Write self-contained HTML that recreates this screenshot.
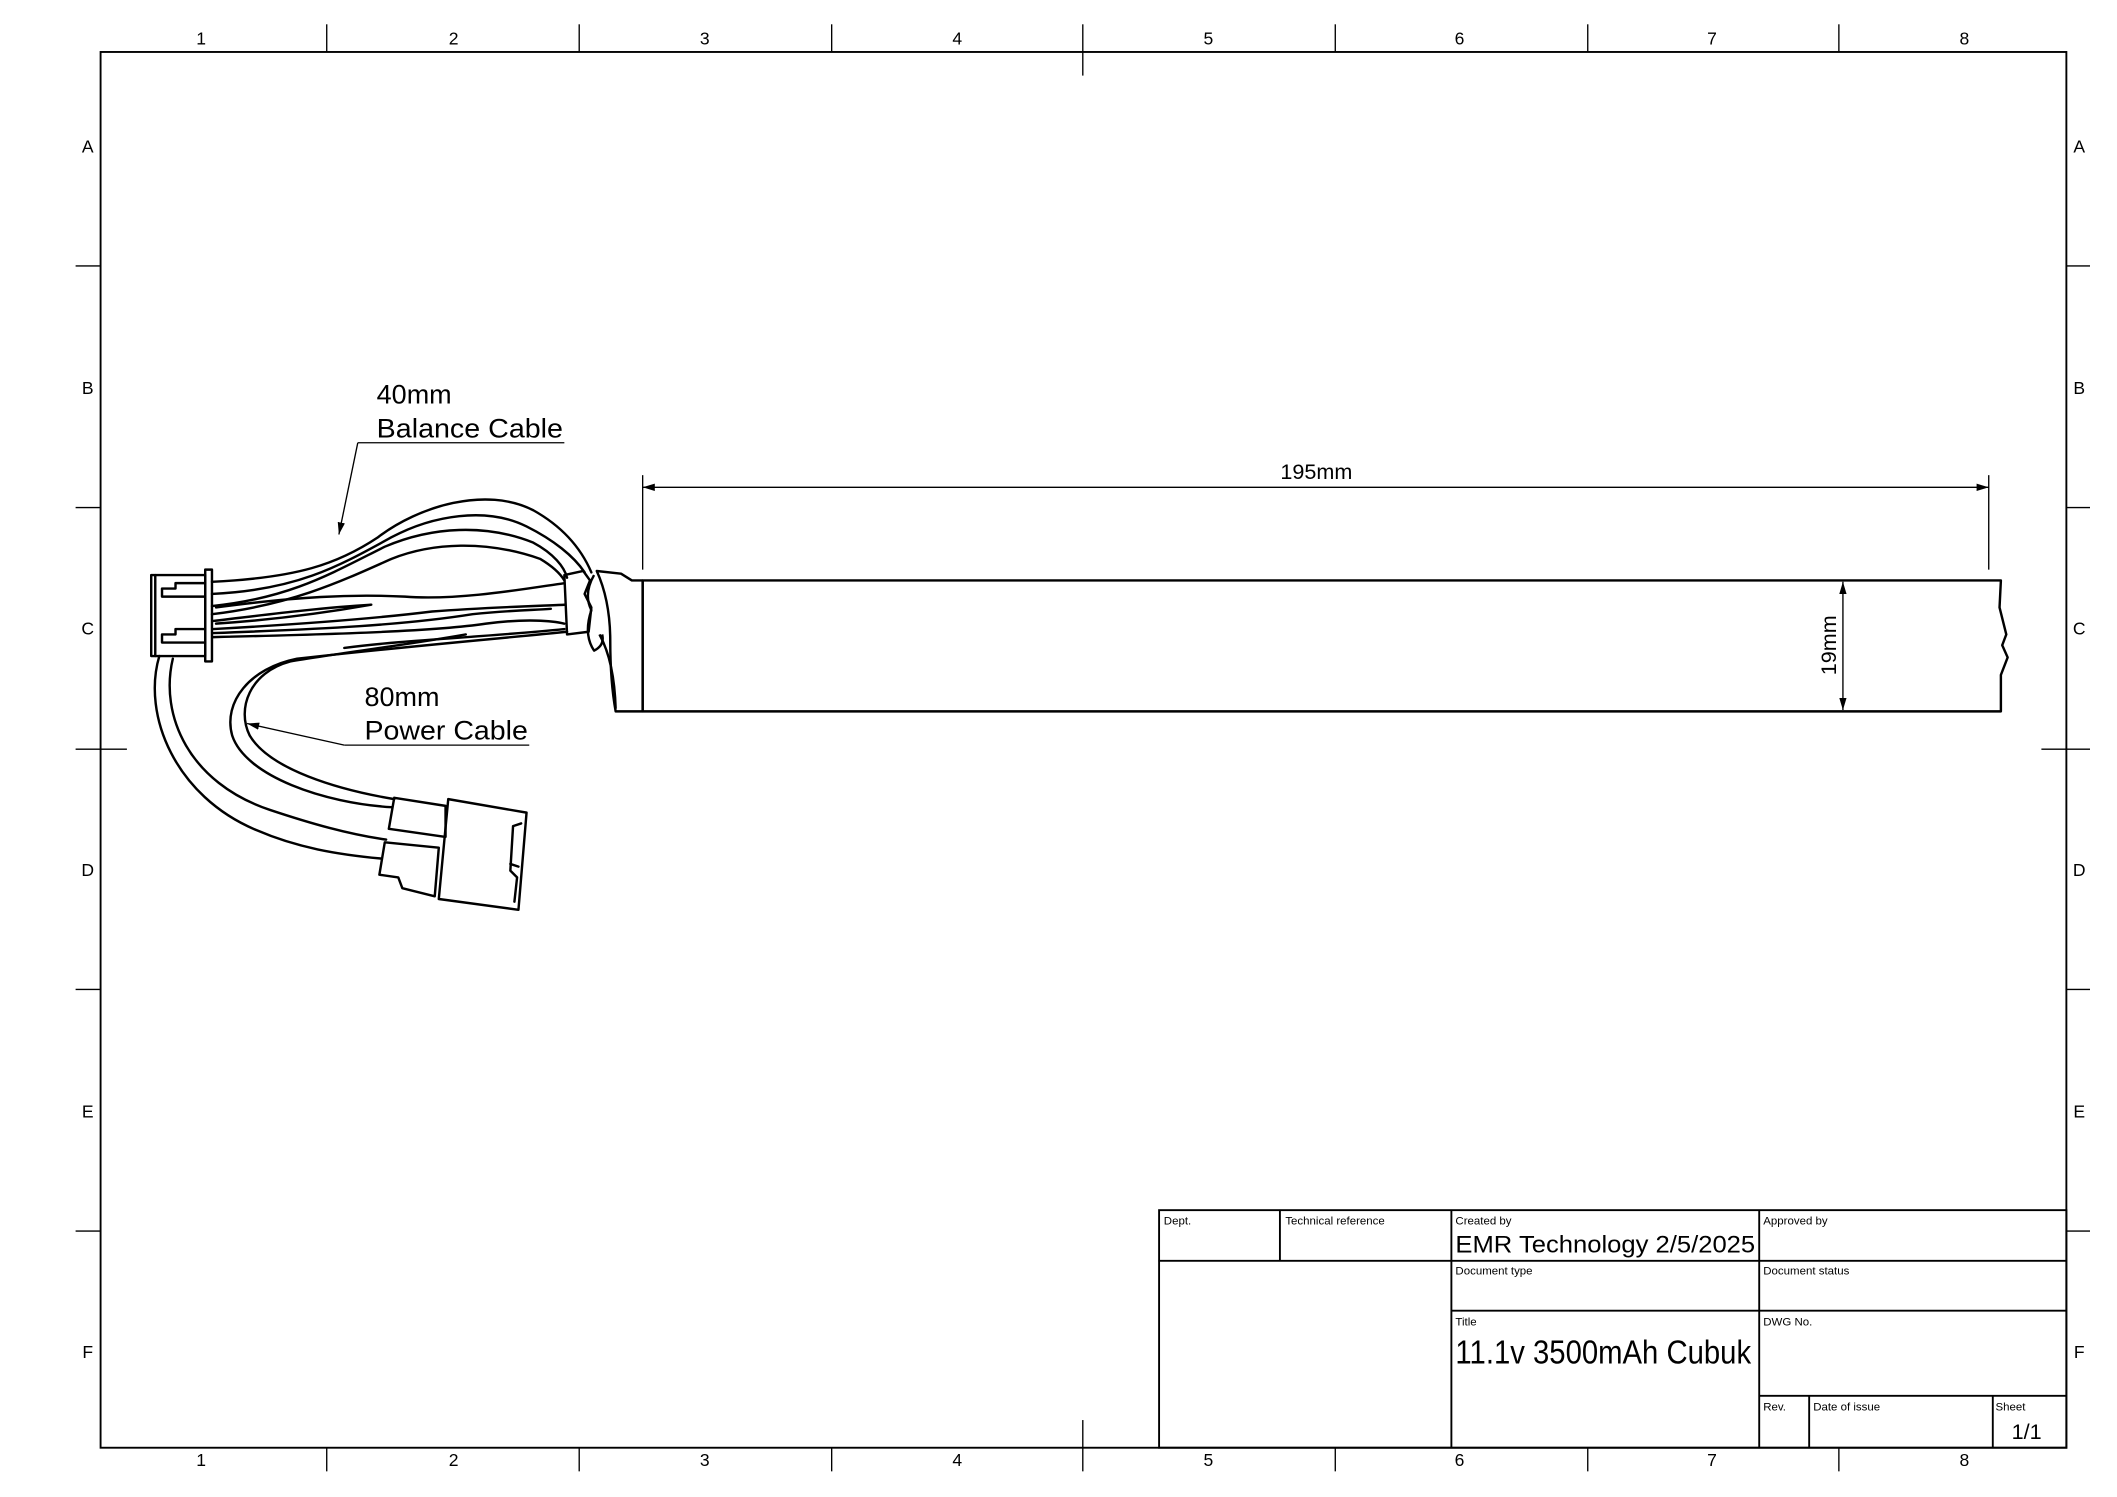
<!DOCTYPE html>
<html><head><meta charset="utf-8"><style>
html,body{margin:0;padding:0;background:#fff;}
svg{display:block;}
text{font-family:"Liberation Sans",sans-serif;fill:#000;}
</style></head><body>
<svg width="2117" height="1497" viewBox="0 0 1568 1109" preserveAspectRatio="none" xmlns="http://www.w3.org/2000/svg">
<defs>
<marker id="ar" viewBox="0 0 10 10" refX="10" refY="5" markerWidth="9" markerHeight="9" markerUnits="userSpaceOnUse" orient="auto-start-reverse"><path d="M0,2 L10,5 L0,8 z" fill="#000"/></marker>
</defs>
<rect width="1568" height="1109" fill="#fff"/>
<rect x="74.5" y="38.5" width="1456" height="1034" fill="none" stroke="#000" stroke-width="1.4"/>
<g stroke="#000" stroke-width="1">
<line x1="242" y1="18" x2="242" y2="38"/><line x1="429" y1="18" x2="429" y2="38"/><line x1="616" y1="18" x2="616" y2="38"/><line x1="802" y1="18" x2="802" y2="56"/><line x1="989" y1="18" x2="989" y2="38"/><line x1="1176" y1="18" x2="1176" y2="38"/><line x1="1362" y1="18" x2="1362" y2="38"/>
<line x1="242" y1="1072" x2="242" y2="1090"/><line x1="429" y1="1072" x2="429" y2="1090"/><line x1="616" y1="1072" x2="616" y2="1090"/><line x1="802" y1="1052" x2="802" y2="1090"/><line x1="989" y1="1072" x2="989" y2="1090"/><line x1="1176" y1="1072" x2="1176" y2="1090"/><line x1="1362" y1="1072" x2="1362" y2="1090"/>
<line x1="56" y1="197" x2="74" y2="197"/><line x1="56" y1="376" x2="74" y2="376"/><line x1="56" y1="555" x2="94" y2="555"/><line x1="56" y1="733" x2="74" y2="733"/><line x1="56" y1="912" x2="74" y2="912"/>
<line x1="1530" y1="197" x2="1548" y2="197"/><line x1="1530" y1="376" x2="1548" y2="376"/><line x1="1512" y1="555" x2="1548" y2="555"/><line x1="1530" y1="733" x2="1548" y2="733"/><line x1="1530" y1="912" x2="1548" y2="912"/>
</g>
<g font-size="13" text-anchor="middle">
<text x="149" y="33">1</text><text x="336" y="33">2</text><text x="522" y="33">3</text><text x="709" y="33">4</text><text x="895" y="33">5</text><text x="1081" y="33">6</text><text x="1268" y="33">7</text><text x="1455" y="33">8</text>
<text x="149" y="1086">1</text><text x="336" y="1086">2</text><text x="522" y="1086">3</text><text x="709" y="1086">4</text><text x="895" y="1086">5</text><text x="1081" y="1086">6</text><text x="1268" y="1086">7</text><text x="1455" y="1086">8</text>
<text x="65" y="113">A</text><text x="65" y="292">B</text><text x="65" y="470">C</text><text x="65" y="649">D</text><text x="65" y="828">E</text><text x="65" y="1006">F</text>
<text x="1540" y="113">A</text><text x="1540" y="292">B</text><text x="1540" y="470">C</text><text x="1540" y="649">D</text><text x="1540" y="828">E</text><text x="1540" y="1006">F</text>
</g>
<g stroke="#000" stroke-width="1.4" fill="none">
<rect x="858.5" y="896.5" width="672" height="176"/>
<line x1="858" y1="934" x2="1530" y2="934"/>
<line x1="1075" y1="971" x2="1530" y2="971"/>
<line x1="1303" y1="1034" x2="1530" y2="1034"/>
<line x1="948" y1="896" x2="948" y2="934"/>
<line x1="1075" y1="896" x2="1075" y2="1072"/>
<line x1="1303" y1="896" x2="1303" y2="1072"/>
<line x1="1340" y1="1034" x2="1340" y2="1072"/>
<line x1="1476" y1="1034" x2="1476" y2="1072"/>
</g>
<g font-size="8.5">
<text x="862" y="907">Dept.</text><text x="952" y="907">Technical reference</text><text x="1078" y="907">Created by</text><text x="1306" y="907">Approved by</text>
<text x="1078" y="944">Document type</text><text x="1306" y="944">Document status</text>
<text x="1078" y="982">Title</text><text x="1306" y="982">DWG No.</text>
<text x="1306" y="1045">Rev.</text><text x="1343" y="1045">Date of issue</text><text x="1478" y="1045">Sheet</text>
</g>
<text x="1078" y="928" font-size="17.5" textLength="222" lengthAdjust="spacingAndGlyphs">EMR Technology  2/5/2025</text>
<text x="1078" y="1010" font-size="25" textLength="219" lengthAdjust="spacingAndGlyphs">11.1v 3500mAh Cubuk</text>
<text x="1490" y="1066" font-size="16">1/1</text>
<g stroke="#000" stroke-width="1.8" fill="none" stroke-linejoin="round">
<path d="M476,430 L1482,430 L1481,450 L1486,470 L1483,478 L1487,487 L1482,500 L1482,527 L476,527 Z"/>
<line x1="476" y1="430" x2="476" y2="527"/>
<path d="M476,430 L468,430 L460,425 L442,423 Q452,445 452,475 Q452,505 456,527 L476,527"/>
<path d="M440,426 Q432,440 438,452 Q432,470 440,482 Q448,478 446,470"/>
<path d="M444,470 Q455,490 456,525"/>
</g>
<g stroke="#000" stroke-width="1">
<line x1="476" y1="352" x2="476" y2="422"/>
<line x1="1473" y1="352" x2="1473" y2="422"/>
<line x1="476" y1="361" x2="1473" y2="361" marker-start="url(#ar)" marker-end="url(#ar)"/>
<line x1="1365" y1="431" x2="1365" y2="526" marker-start="url(#ar)" marker-end="url(#ar)"/>
</g>
<text x="975" y="355" font-size="16" text-anchor="middle">195mm</text>
<text transform="translate(1360,478) rotate(-90)" font-size="16" text-anchor="middle">19mm</text>
<g stroke="#000" stroke-width="1.8" fill="none" stroke-linejoin="round" stroke-linecap="round">
<rect x="112" y="426" width="40" height="60"/>
<line x1="115" y1="426" x2="115" y2="486"/>
<rect x="152" y="422" width="5" height="68"/>
<path d="M152,432 L130,432 L130,436 L120,436 L120,442 L152,442"/>
<path d="M152,466 L130,466 L130,470 L120,470 L120,476 L152,476"/>
<path d="M157,431 C220,428 250,418 280,398 C310,375 360,360 395,378 C420,392 432,410 438,424"/>
<path d="M157,440 C220,437 250,420 290,398 C320,382 360,375 390,390 C410,400 425,412 433,424"/>
<path d="M157,449 C215,443 245,425 285,405 C320,390 360,388 395,402 C410,410 418,420 420,428"/>
<path d="M157,455 C215,448 250,432 290,414 C320,402 360,400 400,414 C410,420 415,425 418,430"/>
<path d="M160,450 C220,442 260,440 300,442 C340,445 390,436 418,432"/>
<path d="M158,460 C200,455 240,450 275,448 C230,456 190,460 160,462"/>
<path d="M158,466 C230,462 280,458 320,453 C360,450 395,449 418,448"/>
<path d="M158,469 C240,466 300,463 350,455 C380,452 395,452 408,451"/>
<path d="M158,472 C240,470 320,468 360,462 C390,458 410,460 418,462"/>
<path d="M418,426 L432,423 L437,430 L433,440 L438,450 L436,468 L420,470 Z"/>
<path d="M118,486 C105,530 130,590 190,615 C220,628 250,633 282,636"/>
<path d="M128,488 C118,530 140,580 200,600 C230,610 258,618 286,622"/>
<path d="M420,468 C360,474 290,480 220,488 C185,495 165,520 172,545 C182,575 240,595 290,598"/>
<path d="M345,470 C300,478 250,484 215,490 C185,498 175,525 185,545 C200,570 250,585 292,592"/>
<path d="M418,466 C360,472 300,474 255,480"/>
<path d="M292,591 L330,597 L330,620 L288,614 Z"/>
<path d="M285,624 L325,628 L322,664 L298,658 L295,650 L281,648 Z"/>
<path d="M332,592 L390,602 L384,674 L325,666 Z"/>
<path d="M386,610 L380,612 L378,645 L383,650 L381,668"/>
<path d="M378,640 L384,642"/>
</g>
<text x="279" y="299" font-size="20">40mm</text>
<text x="279" y="324" font-size="20" textLength="138" lengthAdjust="spacingAndGlyphs">Balance Cable</text>
<text x="270" y="523" font-size="20">80mm</text>
<text x="270" y="548" font-size="20" textLength="121" lengthAdjust="spacingAndGlyphs">Power Cable</text>
<g stroke="#000" stroke-width="1" fill="none">
<line x1="265" y1="328" x2="418" y2="328"/>
<line x1="265" y1="328" x2="251" y2="396" marker-end="url(#ar)"/>
<line x1="255" y1="552" x2="392" y2="552"/>
<line x1="255" y1="552" x2="183" y2="536" marker-end="url(#ar)"/>
</g>
</svg>
</body></html>
